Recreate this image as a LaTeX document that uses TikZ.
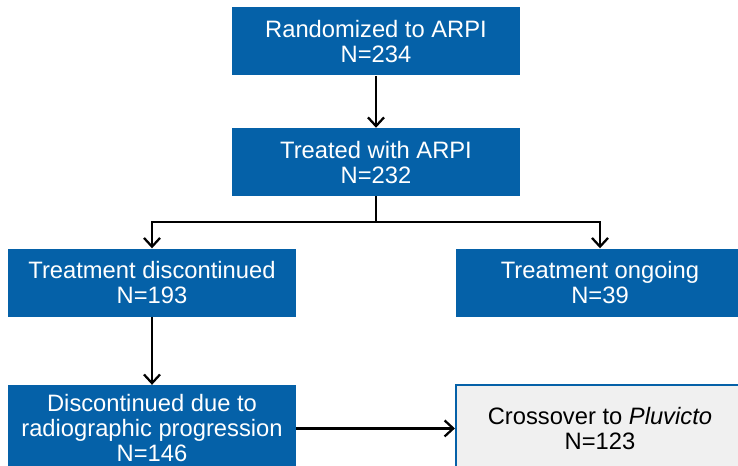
\documentclass[tikz,border=0pt]{standalone}
\usepackage{fontspec}
\setmainfont{Liberation Sans}
\usetikzlibrary{arrows.meta,positioning}
\definecolor{nvblue}{RGB}{5,97,168}
\definecolor{boxgray}{RGB}{240,240,240}
\tikzset{
  >={Straight Barb[length=6.5pt,width=12pt]},
  every node/.style={font=\fontsize{17.8}{18.75}\selectfont},
  stage/.style={fill=nvblue, text=white, minimum width=216pt, minimum height=51pt, align=center, inner sep=2pt},
  tallstage/.style={stage, minimum height=65pt},
  outcome/.style={tallstage, fill=boxgray, draw=nvblue, line width=1.5pt, text=black},
  flow/.style={->, line width=1.7pt},
}
\begin{document}
\begin{tikzpicture}[x=0.75pt, y=-0.75pt]
\useasboundingbox (0,0) rectangle (738,466);

% main column
\node[stage] (rand) at (376,41.5) {Randomized to ARPI\\N=234};
\node[stage, below=39pt of rand] (treat) {Treated with ARPI\\N=232};
\draw[flow] (rand) -- (treat);

% split after treatment
\node[stage, below=39pt of treat, xshift=-168pt] (disc) {Treatment discontinued\\N=193};
\node[stage, below=39pt of treat, xshift=168pt] (ongo) {Treatment ongoing\\N=39};
\draw[flow] (treat.south) -- ++(0,26) -| (disc.north);
\draw[flow] (treat.south) -- ++(0,26) -| (ongo.north);

% progression and crossover
\node[tallstage, below=51pt of disc] (prog) {Discontinued due to\\radiographic progression\\N=146};
\node[outcome, right=119pt of prog] (cross) {Crossover to \textit{Pluvicto}\\N=123};
\draw[flow] (disc) -- (prog);
\draw[flow] (prog) -- (cross);

\end{tikzpicture}
\end{document}
